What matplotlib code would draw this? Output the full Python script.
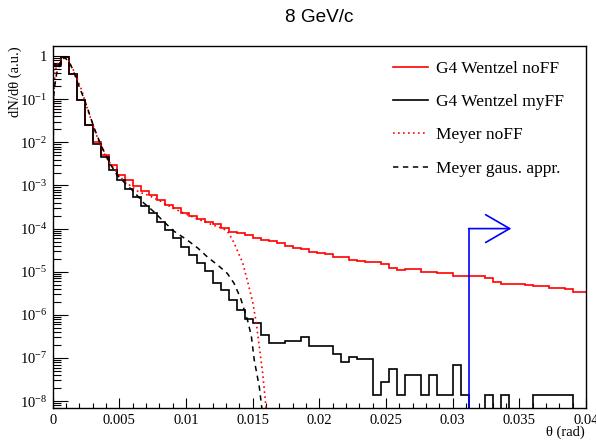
import numpy as np
import matplotlib
matplotlib.use('Agg')
import matplotlib.pyplot as plt
from matplotlib.lines import Line2D
from matplotlib.ticker import FixedLocator, LogLocator, NullFormatter, MultipleLocator


# histogram binning (rad)
bin_width = 0.0006

# G4 Wentzel, no form factor
wentzel_noff = [
    0.62, 0.93, 0.38, 0.095, 0.025, 0.0103, 0.0050, 0.0030, 0.00173, 0.00132,
    0.00098, 0.00075, 5.96e-4, 4.57e-4, 3.6e-4, 2.94e-4, 2.36e-4, 1.98e-4, 1.66e-4, 1.39e-4,
    1.25e-4, 1.06e-4, 8.5e-5, 7.7e-5, 7.0e-5, 6.2e-5, 5.4e-5, 5.2e-5, 4.6e-5, 3.9e-5,
    3.6e-5, 3.3e-5, 2.94e-5, 2.74e-5, 2.56e-5, 2.15e-5, 2.15e-5, 1.85e-5, 1.79e-5, 1.7e-5,
    1.7e-5, 1.49e-5, 1.25e-5, 1.08e-5, 1.14e-5, 1.14e-5, 1.0e-5, 9.6e-6, 9.3e-6, 9.1e-6,
    7.9e-6, 7.9e-6, 7.9e-6, 7.9e-6, 7.3e-6, 5.8e-6, 5.3e-6, 5.3e-6, 5.3e-6, 4.9e-6,
    4.6e-6, 4.6e-6, 4.3e-6, 4.3e-6, 4.0e-6, 3.4e-6, 3.4e-6, 3.5e-6,
]

# G4 Wentzel, my form factor
wentzel_myff = [
    0.62, 0.93, 0.38, 0.095, 0.025, 0.0091, 0.0045, 0.00226, 0.00132, 0.00085,
    0.00055, 3.3e-4, 2.24e-4, 1.44e-4, 9.2e-5, 5.9e-5, 3.8e-5, 2.4e-5, 1.6e-5, 1.04e-5,
    5.5e-6, 3.7e-6, 2.26e-6, 1.28e-6, 7.8e-7, 6.5e-7, 3.4e-7, 2.2e-7, 2.2e-7, 2.45e-7,
    2.45e-7, 3.1e-7, 1.9e-7, 1.9e-7, 1.9e-7, 1.26e-7, 8.1e-8, 1.05e-7, 9.3e-8, 9.3e-8,
    1.35e-8, 2.7e-8, 5.4e-8, 1.35e-8, 4.05e-8, 4.05e-8, 1.35e-8, 4.05e-8, 1.35e-8, 1.35e-8,
    6.75e-8, 1.35e-8, 0, 0, 1.35e-8, 0, 1.35e-8, 0, 0, 0,
    1.35e-8, 1.35e-8, 1.35e-8, 1.35e-8, 1.35e-8, 0, 0, 0,
]

# Meyer, no form factor
meyer_noff_theta = [
    0, 0.00005, 0.00017, 0.00038, 0.00068, 0.00093, 0.00118, 0.00143, 0.00168, 0.00193,
    0.00219, 0.00243, 0.00268, 0.00294, 0.00319, 0.00344, 0.00369, 0.00394, 0.00432, 0.0047,
    0.00507, 0.00545, 0.00595, 0.00645, 0.0072, 0.0081, 0.0090, 0.0099, 0.0108, 0.0117,
    0.0125, 0.0128, 0.0132, 0.0136, 0.0140, 0.01424, 0.01462, 0.0150, 0.01525, 0.0155,
    0.01575, 0.0160, 0.0162,
]
meyer_noff = [
    1e-9, 0.063, 0.44, 0.68, 0.89, 0.89, 0.81, 0.56, 0.40, 0.25,
    0.16, 0.087, 0.051, 0.030, 0.0174, 0.0112, 0.0072, 0.0050, 0.0032, 0.00226,
    0.00158, 0.0012, 0.00093, 0.00071, 5.9e-4, 4.3e-4, 3.0e-4, 2.24e-4, 1.7e-4, 1.32e-4,
    1.07e-4, 1.0e-4, 7.9e-5, 4.7e-5, 2.4e-5, 1.66e-5, 5.9e-6, 2.0e-6, 7.1e-7, 1.8e-7,
    4.4e-8, 7.2e-9, 2.0e-9,
]

# Meyer, gaussian approximation
meyer_gaus_theta = [
    0, 0.00005, 0.0001, 0.0003, 0.0006, 0.0009, 0.0012, 0.0015, 0.0019, 0.0023,
    0.0026, 0.0031, 0.0036, 0.0043, 0.0048, 0.0055, 0.0061, 0.0068, 0.0076, 0.0083,
    0.0091, 0.0101, 0.0109, 0.0116, 0.0124, 0.0131, 0.0136, 0.0141, 0.01462, 0.0149,
    0.01512, 0.0153, 0.0155, 0.01568, 0.0158,
]
meyer_gaus = [
    1e-9, 0.063, 0.16, 0.40, 0.79, 0.93, 0.76, 0.50, 0.23, 0.112,
    0.063, 0.022, 0.0089, 0.0032, 0.0018, 0.00107, 0.00071, 0.0004, 2.45e-4, 1.48e-4,
    8.7e-5, 5.4e-5, 3.5e-5, 2.2e-5, 1.41e-5, 9.1e-6, 5.4e-6, 2.4e-6, 7.4e-7, 3.2e-7,
    8.9e-8, 4.5e-8, 2.1e-8, 7.2e-9, 3.2e-9,
]

# cut marker
cut_theta = 0.0312
cut_level = 1e-4
cut_arrow_end = 0.0344

x_ticks = [0, 0.005, 0.01, 0.015, 0.02, 0.025, 0.03, 0.035, 0.04]
x_tick_labels = ['0', '0.005', '0.01', '0.015', '0.02', '0.025', '0.03', '0.035', '0.04']
y_ticks = [1, 1e-1, 1e-2, 1e-3, 1e-4, 1e-5, 1e-6, 1e-7, 1e-8]
y_tick_labels = ['1', r'$10^{-1}$', r'$10^{-2}$', r'$10^{-3}$', r'$10^{-4}$',
                 r'$10^{-5}$', r'$10^{-6}$', r'$10^{-7}$', r'$10^{-8}$']

plt.rcParams['font.family'] = ['Liberation Serif', 'DejaVu Serif']
plt.rcParams['mathtext.fontset'] = 'custom'
plt.rcParams['mathtext.rm'] = 'Liberation Serif'
plt.rcParams['mathtext.it'] = 'Liberation Serif:italic'

fig = plt.figure(figsize=(5.96, 4.43), dpi=100)
ax = fig.add_axes([0.0884, 0.079, 0.8948, 0.8172])

edges = np.arange(len(wentzel_noff) + 1) * bin_width
ax.stairs(np.clip(wentzel_noff, 1e-12, None), edges, color='red', lw=1.2, baseline=None)
ax.stairs(np.clip(wentzel_myff, 1e-12, None), edges, color='black', lw=1.2, baseline=None)
ax.plot(meyer_noff_theta, meyer_noff, color='red', lw=1.2, ls=(0, (1, 2)))
ax.plot(meyer_gaus_theta, meyer_gaus, color='black', lw=1.1, ls=(0, (3.5, 3)))

ax.set_yscale('log')
ax.set_xlim(0, 0.04)
ax.set_ylim(6.9e-9, 1.72)

# cut line + arrow
ax.plot([cut_theta, cut_theta], [6.9e-9, cut_level], color='blue', lw=1.2)
ax.annotate('', xy=(cut_arrow_end, cut_level), xytext=(cut_theta, cut_level),
            arrowprops=dict(arrowstyle='->,head_length=1.73,head_width=1.0',
                            color='blue', lw=1.2, mutation_scale=10,
                            shrinkA=0, shrinkB=0))

ax.xaxis.set_major_locator(FixedLocator(x_ticks))
ax.set_xticklabels(x_tick_labels)
ax.xaxis.set_minor_locator(MultipleLocator(0.001))
ax.yaxis.set_major_locator(FixedLocator(y_ticks))
ax.set_yticklabels(y_tick_labels)
ax.yaxis.set_minor_locator(LogLocator(base=10, subs=np.arange(2, 10), numticks=30))
ax.yaxis.set_minor_formatter(NullFormatter())

ax.tick_params(which='both', direction='in', top=False, right=False, width=0.8, labelsize=10.5)
ax.tick_params(axis='x', which='major', length=7.2, pad=4)
ax.tick_params(axis='x', which='minor', length=3.6)
ax.tick_params(axis='y', which='major', length=10.8, pad=4)
ax.tick_params(axis='y', which='minor', length=5.8)
for s in ax.spines.values():
    s.set_linewidth(1.0)

fig.text(319 / 596, 1 - 18 / 443, '8 GeV/c', family='Liberation Sans', fontsize=13.7,
         ha='center', va='center')
fig.text(15 / 596, 1 - 46 / 443, 'dN/dθ (a.u.)', rotation=90, ha='center', va='top', fontsize=10.5)
fig.text(585 / 596, 1 - 432 / 443, 'θ (rad)', ha='right', va='center', fontsize=10.5)

handles = [
    Line2D([], [], color='red', lw=1.2),
    Line2D([], [], color='black', lw=1.2),
    Line2D([], [], color='red', lw=1.2, ls=(0, (1, 2))),
    Line2D([], [], color='black', lw=1.1, ls=(0, (3.5, 3))),
]
labels = ['G4 Wentzel noFF', 'G4 Wentzel myFF', 'Meyer noFF', 'Meyer gaus. appr.']
ax.legend(handles, labels, loc='upper left', bbox_to_anchor=(393 / 596, 1 - 61 / 443),
          bbox_transform=fig.transFigure, frameon=False, fontsize=12.5,
          handlelength=2.0, handletextpad=0.45, labelspacing=0.98,
          borderpad=0, borderaxespad=0)

plt.savefig('out.png', dpi=100)
plt.close()
